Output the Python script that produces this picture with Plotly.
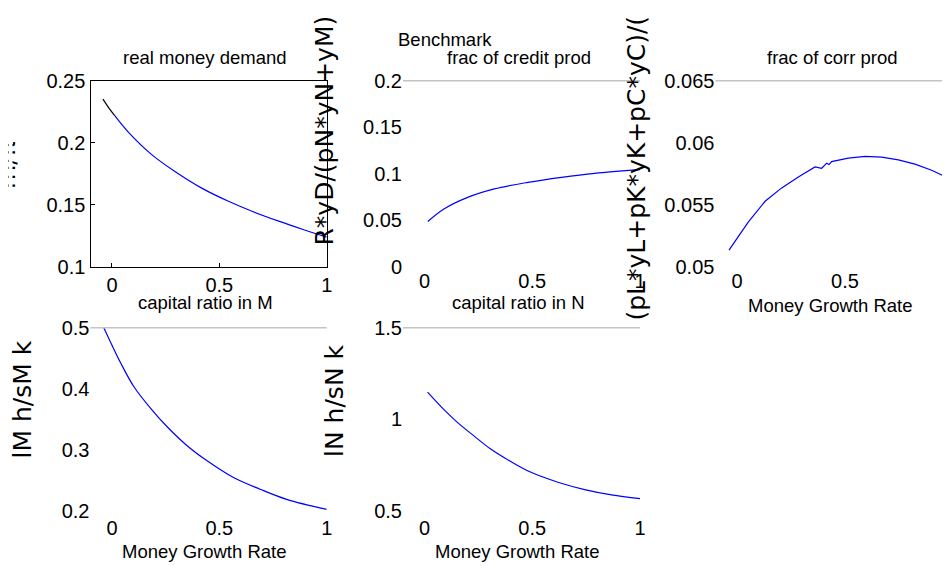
import plotly.graph_objects as go

# ---------------- data ----------------
x_money_black = [-0.042, -0.018, 0.013]
y_money_black = [0.2352, 0.2290, 0.2218]
x_money = [0.013, 0.075, 0.185, 0.295, 0.42, 0.545, 0.655, 0.78, 0.89, 1.0]
y_money = [0.2218, 0.2088, 0.1905, 0.1767, 0.1633, 0.1527, 0.1447, 0.1367, 0.1302, 0.1240]

x_credit = [0.015, 0.09, 0.2, 0.324, 0.48, 0.636, 0.79, 1.0]
y_credit = [0.0488, 0.0622, 0.0747, 0.0838, 0.0909, 0.0963, 0.1006, 0.1045]

x_corr = [-0.037, 0.052, 0.130, 0.207, 0.284, 0.361, 0.392, 0.415, 0.426, 0.438,
          0.515, 0.593, 0.670, 0.747, 0.824, 0.901, 0.986, 1.0]
y_corr = [0.05136, 0.05361, 0.05529, 0.05637, 0.05724, 0.05806, 0.05795, 0.05836, 0.05825, 0.05849,
          0.05877, 0.0589, 0.05885, 0.05863, 0.05828, 0.05779, 0.0571, 0.05697]

x_capM = [-0.038, 0.042, 0.103, 0.18, 0.258, 0.35, 0.443, 0.566, 0.69, 0.813, 1.0]
y_capM = [0.5, 0.4413, 0.4029, 0.368, 0.3375, 0.3069, 0.2822, 0.2548, 0.2356, 0.2191, 0.2027]

x_capN = [0.014, 0.089, 0.151, 0.229, 0.307, 0.40, 0.494, 0.619, 0.743, 0.868, 1.0]
y_capN = [1.148, 1.054, 0.985, 0.910, 0.838, 0.770, 0.711, 0.657, 0.617, 0.588, 0.567]

x_tickvals = [0, 0.5, 1]
x_ticktext = ["0", "0.5", "1"]
y1_tickvals = [0.1, 0.15, 0.2, 0.25]
y1_ticktext = ["0.1", "0.15", "0.2", "0.25"]
y2_tickvals = [0, 0.05, 0.1, 0.15, 0.2]
y2_ticktext = ["0", "0.05", "0.1", "0.15", "0.2"]
y3_tickvals = [0.05, 0.055, 0.06, 0.065]
y3_ticktext = ["0.05", "0.055", "0.06", "0.065"]
y4_tickvals = [0.2, 0.3, 0.4, 0.5]
y4_ticktext = ["0.2", "0.3", "0.4", "0.5"]
y5_tickvals = [0.5, 1, 1.5]
y5_ticktext = ["0.5", "1", "1.5"]

titles = ["real money demand", "frac of credit prod", "frac of corr prod",
          "capital ratio in M", "capital ratio in N"]
suptitle = "Benchmark"
xlabel = "Money Growth Rate"
ylabels = ["m/π", "R*yD/(pN*yN+yM)", "(pL*yL+pK*yK+pC*yC)/(", "lM h/sM k", "lN h/sN k"]

# ---------------- figure ----------------
OFF = 8                      # page body margin of the html page
FW, FH = 950 - OFF, 566 - OFF
NARROW = "Liberation Sans, Arial, sans-serif"
WIDE = "DejaVu Sans, Verdana, sans-serif"


def fx(p):
    return (p - OFF) / FW


def fy(p):
    return 1 - (p - OFF) / FH


BLUE = "#0000ff"
fig = go.Figure()


def line(x, y, ax, color=BLUE, shape="spline"):
    fig.add_trace(go.Scatter(x=x, y=y, xaxis="x" + ax, yaxis="y" + ax, mode="lines",
                             line=dict(color=color, width=1.2, shape=shape, smoothing=1.0),
                             showlegend=False, hoverinfo="skip"))


line(x_money, y_money, "")
line(x_money_black, y_money_black, "", color="black")
line(x_credit, y_credit, "2")
line(x_corr, y_corr, "3", shape="linear")
line(x_capM, y_capM, "4")
line(x_capN, y_capN, "5")

tickfont = dict(family=NARROW, size=20, color="black")

col = [[fx(90.5), fx(326.7)], [fx(403), fx(640)], [fx(715.4), 1.0]]
row = [[fy(267), fy(80.7)], [fy(511), fy(327.7)]]


def xax(dom, anchor, rng=(-0.1, 1.0), **kw):
    d = dict(domain=dom, anchor=anchor, range=list(rng), tickvals=x_tickvals, ticktext=x_ticktext,
             tickfont=tickfont, showgrid=False, zeroline=False, showline=False, ticks="",
             automargin=False, fixedrange=True)
    d.update(kw)
    return d


def yax(dom, anchor, rng, tv, tt, **kw):
    d = dict(domain=dom, anchor=anchor, range=list(rng), tickvals=tv, ticktext=tt,
             tickfont=tickfont, showgrid=False, zeroline=False, showline=False, ticks="",
             automargin=False, fixedrange=True)
    d.update(kw)
    return d


box = dict(showline=True, mirror=True, linecolor="black", linewidth=1.3,
           ticks="inside", ticklen=4, tickcolor="black", tickwidth=1)

fig.update_layout(
    width=FW, height=FH, margin=dict(l=0, r=0, t=0, b=0, autoexpand=False),
    paper_bgcolor="white", plot_bgcolor="white", showlegend=False,
    xaxis=xax(col[0], "y", **box),
    yaxis=yax(row[0], "x", (0.1, 0.25), y1_tickvals, y1_ticktext, **box),
    xaxis2=xax(col[1], "y2"),
    yaxis2=yax(row[0], "x2", (0, 0.2), y2_tickvals, y2_ticktext),
    xaxis3=xax(col[2], "y3", rng=(-0.1, 0.986)),
    yaxis3=yax(row[0], "x3", (0.05, 0.065), y3_tickvals, y3_ticktext),
    xaxis4=xax(col[0], "y4", ticklabelstandoff=3),
    yaxis4=yax(row[1], "x4", (0.2, 0.5), y4_tickvals, y4_ticktext),
    xaxis5=xax(col[1], "y5", ticklabelstandoff=3),
    yaxis5=yax(row[1], "x5", (0.5, 1.5), y5_tickvals, y5_ticktext),
)

shapes = []
for i in ["2", "3", "4", "5"]:
    shapes.append(dict(type="line", xref="x%s domain" % i, yref="y%s domain" % i,
                       x0=0, x1=1, y0=1, y1=1, line=dict(color="#c4c4c4", width=1.6)))
fig.update_layout(shapes=shapes)

ann = []
tfont = dict(family=NARROW, size=18.5, color="black")
title_pos = [(205, 58), (519, 58), (832, 58), (205, 302), (518, 302)]
for t, (x, y) in zip(titles, title_pos):
    ann.append(dict(text=t, x=fx(x), y=fy(y), xref="paper", yref="paper", showarrow=False,
                    xanchor="center", yanchor="middle", font=tfont))
ann.append(dict(text=suptitle, x=fx(445), y=fy(39), xref="paper", yref="paper", showarrow=False,
                xanchor="center", yanchor="middle", font=tfont))
for (x, y) in [(830, 305), (204, 551), (517, 551)]:
    ann.append(dict(text=xlabel, x=fx(x), y=fy(y), xref="paper", yref="paper", showarrow=False,
                    xanchor="center", yanchor="middle", font=tfont))

yfont = dict(family=WIDE, size=25, color="black")
ylab_pos = [(6, 165), (324, 130.5), (636, 168.5), (21.5, 400), (334, 401)]
for t, (x, y) in zip(ylabels, ylab_pos):
    ann.append(dict(text=t, x=fx(x), y=fy(y), xref="paper", yref="paper", showarrow=False,
                    xanchor="center", yanchor="middle", textangle=-90, font=yfont))
# the first y label is cropped at the left edge in the reference
ann.append(dict(text=" ", x=0, y=fy(165), xref="paper", yref="paper", showarrow=False,
                xanchor="left", yanchor="middle", width=3, height=80, bgcolor="white",
                borderpad=0, font=dict(size=4)))
fig.update_layout(annotations=ann)

fig.write_html("out.html")
